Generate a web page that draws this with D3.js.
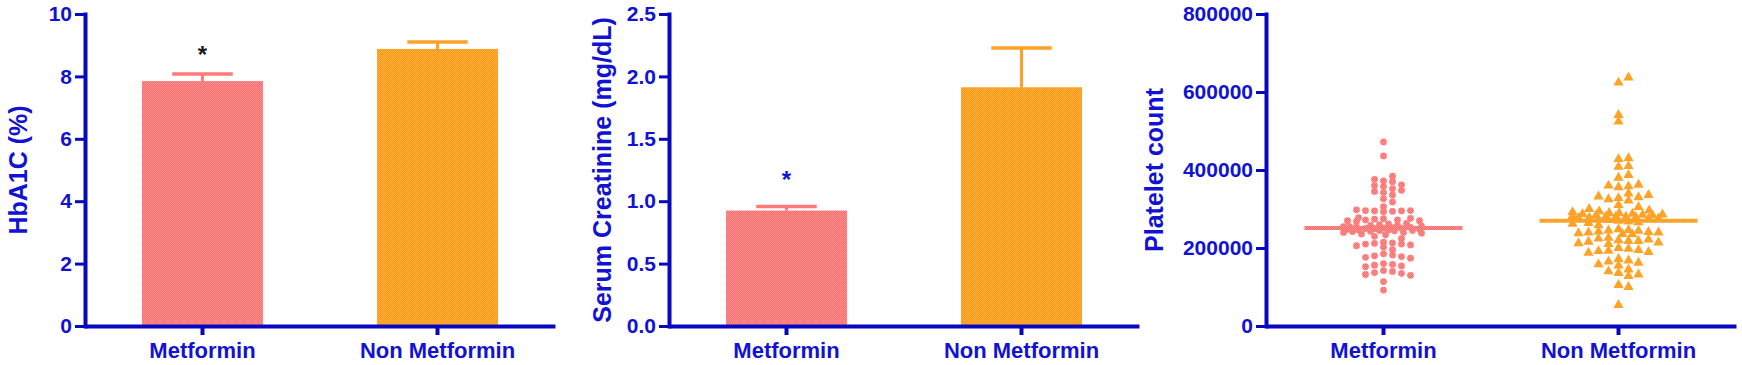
<!DOCTYPE html>
<html>
<head>
<meta charset="utf-8">
<script src="https://cdn.jsdelivr.net/npm/d3@7"></script>
<style>
  body { margin: 0; background: #fff; }
  svg { display: block; font-family: "Liberation Sans", Arial, sans-serif; font-weight: bold; }
</style>
</head>
<body>
<svg id="chart"></svg>
<script>
// ---- data ----
const groups = ["Metformin", "Non Metformin"];

const hba1cMean = [7.85, 8.88];
const hba1cSem = [0.23, 0.22];
const hba1cTicks = [0, 2, 4, 6, 8, 10];

const creatMean = [0.925, 1.913];
const creatSem = [0.032, 0.314];
const creatTicks = [0, 0.5, 1.0, 1.5, 2.0, 2.5];

const plateletTicks = [0, 200000, 400000, 600000, 800000];

const plateletMetformin = [
  472000, 436000,
  384000, 376000, 372000, 370000, 362000, 360000, 358000,
  352000, 348000, 345000, 342000, 336000,
  326000, 318000,
  306000, 298000, 296000, 295000, 295000, 294000, 296000, 293000,
  278000, 275000, 274000, 272000, 272000, 270000, 270000, 268000, 276000,
  263000, 262000, 260000, 258000, 258000, 256000, 255000, 255000, 254000, 253000,
  252000, 251000, 250000, 250000, 250000, 248000, 248000, 247000, 246000, 245000,
  245000, 244000, 243000, 242000, 240000, 240000, 238000, 236000, 234000, 230000,
  224000, 215000, 213000, 212000, 210000, 210000, 208000, 206000, 202000,
  196000, 185000, 182000, 180000, 178000, 176000, 174000,
  160000, 158000, 156000, 154000, 152000,
  142000, 140000, 137000, 135000, 132000, 130000,
  114000, 92000
];

const plateletNonMetformin = [
  637000, 624000, 541000, 524000,
  430000, 428000, 410000, 408000,
  387000, 380000,
  362000, 360000, 358000, 356000,
  340000, 336000, 332000, 330000, 328000, 325000, 322000,
  310000, 305000, 300000,
  296000, 294000, 292000, 290000, 290000, 288000, 287000, 286000, 285000, 284000,
  283000, 282000, 281000, 280000, 280000, 279000, 278000, 277000, 276000, 275000,
  274000, 272000, 270000, 268000, 266000, 264000, 262000, 258000,
  248000, 246000, 245000, 244000, 242000, 241000, 240000, 240000, 238000, 236000, 235000,
  226000, 224000, 222000, 220000, 218000, 218000, 216000, 214000, 212000, 210000,
  200000, 198000, 195000, 193000, 192000, 190000, 188000,
  172000, 168000, 165000, 162000, 158000, 155000,
  145000, 140000, 136000, 132000, 128000,
  105000, 100000,
  54000
];

// significance markers (value where the * sits)
const starHba1c = [8.8, null];
const starCreat = [1.2, null];

// ---- drawing ----
const W = 1742, H = 365;
const axisBlue = "#0808c0";
const textBlue = "#1212d4";
const solid = ["#ff7a7a", "#ffa126"];

const svg = d3.select("#chart").attr("width", W).attr("height", H);

// dithered fills like the exported figure
const defs = svg.append("defs");
function checker(id, a, b) {
  const p = defs.append("pattern").attr("id", id)
    .attr("width", 2).attr("height", 2).attr("patternUnits", "userSpaceOnUse");
  p.append("rect").attr("width", 2).attr("height", 2).attr("fill", a);
  p.append("rect").attr("width", 1).attr("height", 1).attr("fill", b);
  p.append("rect").attr("x", 1).attr("y", 1).attr("width", 1).attr("height", 1).attr("fill", b);
}
checker("pinkFill", "#ff6c6c", "#ff9090");
checker("orangeFill", "#ff9810", "#ffae40");
const fills = ["url(#pinkFill)", "url(#orangeFill)"];

function panel(left, domain, ticks, fmt, label, labelGap) {
  const g = svg.append("g");
  const x = d3.scaleBand().domain(groups)
    .range([left, left + 470])
    .paddingInner(0.485).paddingOuter(0.2425);
  const y = d3.scaleLinear().domain(domain).range([326, 14]);

  const ya = g.append("g")
    .attr("transform", `translate(${left},0)`)
    .call(d3.axisLeft(y).tickValues(ticks).tickFormat(fmt).tickSize(10).tickSizeOuter(0).tickPadding(3));
  ya.select(".domain").attr("stroke", axisBlue).attr("stroke-width", 4).attr("stroke-linecap", "square");
  ya.selectAll(".tick line").attr("stroke", axisBlue).attr("stroke-width", 3);
  ya.selectAll(".tick text").attr("fill", textBlue)
    .style("font-size", "21px").style("font-weight", "bold");

  const xa = g.append("g")
    .attr("transform", `translate(0,${y(0)})`)
    .call(d3.axisBottom(x).tickSize(9).tickSizeOuter(0).tickPadding(7));
  xa.select(".domain").attr("stroke", axisBlue).attr("stroke-width", 4);
  xa.selectAll(".tick line").attr("stroke", axisBlue).attr("stroke-width", 4);
  xa.selectAll(".tick text").attr("fill", textBlue)
    .style("font-size", "22px").style("font-weight", "bold");

  g.append("text")
    .attr("transform", `translate(${left - labelGap},${(y.range()[0] + y.range()[1]) / 2}) rotate(-90)`)
    .attr("text-anchor", "middle")
    .attr("fill", textBlue)
    .style("font-size", "25px")
    .text(label);

  return { g, x, y };
}

function barPanel(left, domain, ticks, fmt, label, means, sems, stars, starColor) {
  const { g, x, y } = panel(left, domain, ticks, fmt, label, 58);
  const data = groups.map((k, i) => ({ k, i, m: means[i], s: sems[i], star: stars[i] }));

  g.insert("g", ":first-child").selectAll("rect")
    .data(data).join("rect")
    .attr("x", d => x(d.k))
    .attr("width", x.bandwidth())
    .attr("y", d => y(d.m))
    .attr("height", d => y(0) - y(d.m))
    .attr("fill", d => fills[d.i]);

  const eb = g.append("g");
  eb.selectAll("line.v").data(data).join("line").attr("class", "v")
    .attr("x1", d => x(d.k) + x.bandwidth() / 2)
    .attr("x2", d => x(d.k) + x.bandwidth() / 2)
    .attr("y1", d => y(d.m))
    .attr("y2", d => y(d.m + d.s))
    .attr("stroke", d => solid[d.i]).attr("stroke-width", 3);
  eb.selectAll("line.c").data(data).join("line").attr("class", "c")
    .attr("x1", d => x(d.k) + x.bandwidth() / 4)
    .attr("x2", d => x(d.k) + x.bandwidth() * 3 / 4)
    .attr("y1", d => y(d.m + d.s))
    .attr("y2", d => y(d.m + d.s))
    .attr("stroke", d => solid[d.i]).attr("stroke-width", 3.5);

  g.append("g").selectAll("text")
    .data(data.filter(d => d.star != null)).join("text")
    .attr("x", d => x(d.k) + x.bandwidth() / 2)
    .attr("y", d => y(d.star) + 12)
    .attr("text-anchor", "middle")
    .attr("fill", starColor)
    .style("font-size", "24px")
    .text("*");
}

// greedy swarm: points only collide when they share a row band, width is capped
function swarm(values, cx, y, step, vstep, maxHalf) {
  const mean = d3.mean(values);
  const pts = values.map(v => ({ v, y: y(v) }))
    .sort((a, b) => Math.abs(a.v - mean) - Math.abs(b.v - mean));
  const placed = [];
  const free = (xx, yy) => placed.every(q => Math.abs(q.x - xx) >= step || Math.abs(q.y - yy) >= vstep);
  for (const p of pts) {
    let off = null;
    for (let k = 0; k < 60; k++) {
      const o = k === 0 ? 0 : (k % 2 ? 1 : -1) * Math.ceil(k / 2) * step;
      if (Math.abs(o) > maxHalf) break;
      if (free(cx + o, p.y)) { off = o; break; }
    }
    if (off === null) {
      let best = -1;
      for (let o = -maxHalf; o <= maxHalf; o += step / 3) {
        const dmin = d3.min(placed, q => Math.hypot(q.x - (cx + o), (q.y - p.y) * 2));
        if (dmin > best) { best = dmin; off = o; }
      }
    }
    p.x = cx + off;
    placed.push(p);
  }
  return placed;
}

barPanel(85, [0, 10], hba1cTicks, d3.format("d"), "HbA1C (%)",
  hba1cMean, hba1cSem, starHba1c, "#1a1a1a");

barPanel(669, [0, 2.5], creatTicks, d3.format(".1f"), "Serum Creatinine (mg/dL)",
  creatMean, creatSem, starCreat, textBlue);

// scatter panel
{
  const { g, x, y } = panel(1266, [0, 800000], plateletTicks, d3.format("d"), "Platelet count", 103);
  const series = [plateletMetformin, plateletNonMetformin];
  series.forEach((vals, i) => {
    const cx = x(groups[i]) + x.bandwidth() / 2;
    const pts = i === 0 ? swarm(vals, cx, y, 9, 5, 40) : swarm(vals, cx, y, 10, 6, 46);
    const m = d3.mean(vals);
    const layer = g.append("g");
    if (i === 0) {
      layer.selectAll("circle").data(pts).join("circle")
        .attr("cx", d => d.x).attr("cy", d => d.y).attr("r", 3.4)
        .attr("fill", fills[i]);
    } else {
      const tri = d3.symbol(d3.symbolTriangle, 46);
      layer.selectAll("path").data(pts).join("path")
        .attr("transform", d => `translate(${d.x},${d.y})`)
        .attr("d", tri)
        .attr("fill", fills[i]);
    }
    layer.append("line")
      .attr("x1", cx - 79).attr("x2", cx + 79)
      .attr("y1", y(m)).attr("y2", y(m))
      .attr("stroke", fills[i]).attr("stroke-width", 4);
  });
}
</script>
</body>
</html>
